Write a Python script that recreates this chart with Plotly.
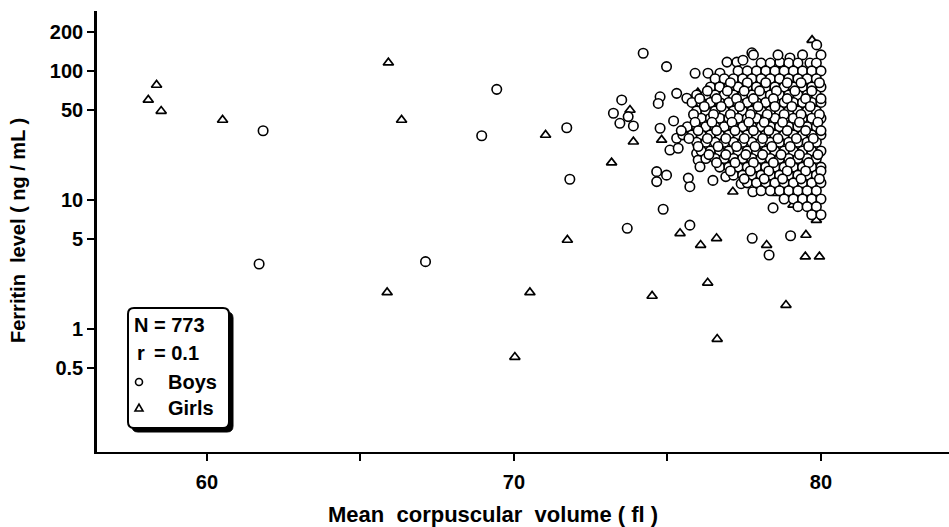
import plotly.graph_objects as go

# ---------------- data (MCV in fl, ferritin in ng/mL) ----------------
girls_mcv = [58.36, 58.09, 58.51, 60.51, 65.91, 66.34, 71.03, 71.74, 65.87, 70.52, 70.03,
             75.41, 76.08, 76.60, 78.23, 79.51, 79.49, 79.95, 79.85, 76.31, 74.50, 78.86, 76.62,
             73.18, 73.89, 73.78, 74.81,
             75.99, 76.45, 76.38, 76.61, 77.13, 78.56, 78.88, 79.09, 79.53, 79.74, 79.37, 78.66,
             78.76, 79.71]
girls_fer = [77.8, 59.6, 48.9, 41.7, 115.7, 41.7, 31.9, 4.91, 1.93, 1.93, 0.61,
             5.53, 4.49, 5.06, 4.49, 5.37, 3.65, 3.65, 7.0, 2.29, 1.81, 1.54, 0.84,
             19.5, 28.3, 49.8, 29.2,
             67.8, 67.8, 28.2, 25.3, 11.6, 11.3, 10.6, 9.2, 9.2, 7.9, 13.5, 13.5,
             107, 173]

boys_sparse_mcv = [69.44, 61.83, 68.95, 71.72, 71.82, 61.70, 67.12,
                   73.69, 75.73, 77.76, 78.31, 79.01,
                   74.21, 74.97, 73.51, 73.24, 73.45, 73.72, 73.89,
                   74.76, 74.70, 74.76, 74.65, 74.65, 74.97, 74.86,
                   75.30, 75.08, 75.35, 75.68, 75.73, 75.95, 76.00, 76.06, 75.90, 76.48, 77.78,
                   75.30, 75.63, 76.32, 76.71, 76.94, 77.26, 77.46, 77.75, 78.99, 78.66, 79.86,
                   79.64, 78.18, 78.40, 78.44, 75.20, 75.50, 76.90, 77.40]
boys_sparse_fer = [72, 34.4, 31.5, 36.3, 14.5, 3.2, 3.34,
                   6.05, 6.4, 5.06, 3.76, 5.3,
                   137, 108, 59.6, 47, 39.3, 44.3, 37.5,
                   63, 56, 36, 16.6, 13.9, 15.6, 8.5,
                   30.1, 24.4, 25.2, 14.8, 12.7, 23, 20.4, 18.1, 95.8, 14.2, 11.6,
                   67, 61.4, 96, 96, 117, 117, 121, 138, 126, 117, 159,
                   115, 13.1, 13.8, 8.7, 41, 34, 15.2, 13.4]

# dense cluster of boys, read row by row (ferritin level -> MCV values)
cluster_fer = [133, 115, 100, 87, 75, 65, 57, 49, 43, 37, 32, 28, 24, 21, 18, 15.6, 13.6, 11.8, 10.2, 8.9, 7.7]
cluster_mcv = [
    [77.8, 78.6, 79.4, 80.0],
    [78.05, 78.35, 78.95, 79.25, 79.85],
    [77.3, 77.6, 77.9, 78.2, 78.5, 78.8, 79.1, 79.4, 79.7, 80.0],
    [76.55, 76.85, 77.15, 77.45, 77.75, 78.05, 78.35, 78.65, 78.95, 79.25, 79.55, 79.85],
    [76.4, 76.7, 77.0, 77.3, 77.6, 77.9, 78.2, 78.5, 78.8, 79.1, 79.4, 79.7, 80.0],
    [75.95, 76.25, 76.55, 76.85, 77.15, 77.45, 77.75, 78.05, 78.35, 78.65, 78.95, 79.25, 79.55, 79.85],
    [75.8, 76.1, 76.4, 76.7, 77.0, 77.3, 77.6, 77.9, 78.2, 78.5, 78.8, 79.1, 79.4, 79.7, 80.0],
    [75.95, 76.25, 76.55, 76.85, 77.15, 77.45, 77.75, 78.05, 78.35, 78.65, 78.95, 79.25, 79.55, 79.85],
    [76.1, 76.4, 76.7, 77.0, 77.3, 77.6, 77.9, 78.2, 78.5, 78.8, 79.1, 79.4, 79.7, 80.0],
    [75.65, 75.95, 76.25, 76.55, 76.85, 77.15, 77.45, 77.75, 78.05, 78.35, 78.65, 78.95, 79.25, 79.55, 79.85],
    [75.5, 75.8, 76.1, 76.4, 76.7, 77.0, 77.3, 77.6, 77.9, 78.2, 78.5, 78.8, 79.1, 79.4, 79.7, 80.0],
    [75.95, 76.25, 76.55, 76.85, 77.15, 77.45, 77.75, 78.05, 78.35, 78.65, 78.95, 79.25, 79.55, 79.85],
    [76.1, 76.4, 76.7, 77.0, 77.3, 77.6, 77.9, 78.2, 78.5, 78.8, 79.1, 79.4, 79.7, 80.0],
    [76.25, 76.55, 76.85, 77.15, 77.45, 77.75, 78.05, 78.35, 78.65, 78.95, 79.25, 79.55, 79.85],
    [76.7, 77.0, 77.3, 77.6, 77.9, 78.2, 78.5, 78.8, 79.1, 79.4, 79.7, 80.0],
    [77.15, 77.45, 77.75, 78.05, 78.35, 78.65, 78.95, 79.25, 79.55, 79.85],
    [77.6, 77.9, 78.2, 78.5, 78.8, 79.1, 79.4, 79.7, 80.0],
    [78.05, 78.35, 78.65, 78.95, 79.25, 79.55, 79.85],
    [78.8, 79.1, 79.4, 79.7, 80.0],
    [79.25, 79.55, 79.85],
    [79.7, 80.0],
]

# overlapping boys lying between the rows above (make the core look crowded)
between_fer = [81, 70, 61, 53, 46, 40, 34.5, 30, 26, 22.5, 19.5, 16.8, 14.6]
between_mcv = [
    [77.05, 77.6, 78.2, 78.9, 79.35, 79.95],
    [76.3, 76.95, 77.5, 78.0, 78.55, 79.15, 79.7],
    [76.05, 76.6, 77.25, 77.8, 78.45, 78.9, 79.5, 80.0],
    [76.2, 76.75, 77.35, 77.95, 78.5, 79.05, 79.65],
    [75.85, 76.5, 77.05, 77.7, 78.25, 78.8, 79.35, 79.95],
    [75.9, 76.45, 77.1, 77.65, 78.15, 78.75, 79.3, 79.9],
    [75.45, 76.0, 76.6, 77.2, 77.8, 78.3, 78.9, 79.5, 80.0],
    [75.7, 76.3, 76.9, 77.5, 78.1, 78.6, 79.2, 79.75],
    [76.0, 76.65, 77.25, 77.85, 78.4, 79.0, 79.6],
    [76.35, 76.9, 77.55, 78.1, 78.7, 79.3, 79.9],
    [76.6, 77.2, 77.8, 78.45, 79.0, 79.6],
    [77.05, 77.7, 78.3, 78.9, 79.5, 80.0],
    [77.5, 78.15, 78.75, 79.35, 79.95],
]

x_tickvals = [60, 65, 70, 75, 80]
x_ticktext = ["60", "", "70", "", "80"]
y_tickvals = [0.5, 1, 5, 10, 50, 100, 200]
y_ticktext = ["0.5", "1", "5", "10", "50", "100", "200"]

legend_lines = [("N", "= 773"), ("r", "= 0.1"), ("", "Boys"), ("", "Girls")]

# ---------------- build ----------------
boys_mcv = list(boys_sparse_mcv)
boys_fer = list(boys_sparse_fer)
for f, row in zip(cluster_fer, cluster_mcv):
    boys_mcv += row
    boys_fer += [f] * len(row)
for f, row in zip(between_fer, between_mcv):
    boys_mcv += row
    boys_fer += [f] * len(row)

W, H = 949, 527
L, R, T, B = 97, 949, 11, 452
FONT = "Liberation Sans"


def px(x):
    return (x - L) / (R - L)


def py(y):
    return (B - y) / (B - T)


fig = go.Figure()
fig.add_trace(go.Scatter(
    x=girls_mcv, y=girls_fer, mode="markers", name="Girls",
    marker=dict(symbol="triangle-up", size=9, color="white",
                line=dict(color="black", width=1.7)),
))
fig.add_trace(go.Scatter(
    x=boys_mcv, y=boys_fer, mode="markers", name="Boys",
    marker=dict(symbol="circle", size=9.5, color="white",
                line=dict(color="black", width=1.6)),
))

fig.update_layout(
    width=W, height=H,
    margin=dict(l=L, r=W - R, t=T, b=H - B),
    paper_bgcolor="white", plot_bgcolor="white",
    showlegend=False,
    font=dict(family=FONT, color="black"),
)
fig.update_xaxes(
    range=[56.42, 84.17], showgrid=False, zeroline=False,
    showline=True, linecolor="black", linewidth=2.2,
    tickmode="array", tickvals=x_tickvals, ticktext=x_ticktext,
    ticks="outside", ticklen=7, tickwidth=2, tickcolor="black",
    tickfont=dict(family=FONT, size=20, weight="bold", color="black"),
    ticklabelstandoff=4,
)
fig.update_yaxes(
    type="log", range=[-0.9497, 2.4636], showgrid=False, zeroline=False,
    showline=True, linecolor="black", linewidth=2.6,
    tickmode="array", tickvals=y_tickvals, ticktext=y_ticktext,
    ticks="outside", ticklen=7, tickwidth=2, tickcolor="black",
    tickfont=dict(family=FONT, size=20, weight="bold", color="black"),
)

ann = []
ann.append(dict(text="Mean  corpuscular  volume ( fl )", x=px(493), y=py(514),
                xref="paper", yref="paper", showarrow=False, xanchor="center", yanchor="middle",
                font=dict(family=FONT, size=22, weight="bold", color="black")))
ann.append(dict(text="Ferritin  level ( ng / mL )", x=px(18), y=py(231), textangle=-90,
                xref="paper", yref="paper", showarrow=False, xanchor="center", yanchor="middle",
                font=dict(family=FONT, size=20, weight="bold", color="black")))

# legend box (rounded, with shadow)
def rrect(x0, y0, x1, y1, r):
    return (f"M {px(x0 + r)} {py(y0)} L {px(x1 - r)} {py(y0)} "
            f"Q {px(x1)} {py(y0)} {px(x1)} {py(y0 + r)} L {px(x1)} {py(y1 - r)} "
            f"Q {px(x1)} {py(y1)} {px(x1 - r)} {py(y1)} L {px(x0 + r)} {py(y1)} "
            f"Q {px(x0)} {py(y1)} {px(x0)} {py(y1 - r)} L {px(x0)} {py(y0 + r)} "
            f"Q {px(x0)} {py(y0)} {px(x0 + r)} {py(y0)} Z")


shapes = [
    dict(type="path", path=rrect(132, 312, 233, 432, 6), xref="paper", yref="paper",
         fillcolor="black", line=dict(color="black", width=1)),
    dict(type="path", path=rrect(128, 308, 229, 428, 6), xref="paper", yref="paper",
         fillcolor="white", line=dict(color="black", width=2)),
    dict(type="circle", xref="paper", yref="paper", x0=px(135.5), x1=px(142.5),
         y0=py(385.5), y1=py(378.5), line=dict(color="black", width=1.6), fillcolor="white"),
    dict(type="path", xref="paper", yref="paper",
         path=f"M {px(135)} {py(411)} L {px(143)} {py(411)} L {px(139)} {py(404)} Z",
         line=dict(color="black", width=1.6), fillcolor="white"),
]

row_y = [325, 353, 382, 408]
for (lab, val), yy in zip(legend_lines, row_y):
    if lab:
        ann.append(dict(text=lab, x=px(132 if lab == "N" else 135), y=py(yy), xref="paper", yref="paper",
                        showarrow=False, xanchor="left", yanchor="middle",
                        font=dict(family=FONT, size=20, weight="bold", color="black")))
        ann.append(dict(text=val, x=px(152), y=py(yy), xref="paper", yref="paper",
                        showarrow=False, xanchor="left", yanchor="middle",
                        font=dict(family=FONT, size=20, weight="bold", color="black")))
    else:
        ann.append(dict(text=val, x=px(166), y=py(yy), xref="paper", yref="paper",
                        showarrow=False, xanchor="left", yanchor="middle",
                        font=dict(family=FONT, size=20, weight="bold", color="black")))

fig.update_layout(annotations=ann, shapes=shapes)
fig.write_html("out.html")
